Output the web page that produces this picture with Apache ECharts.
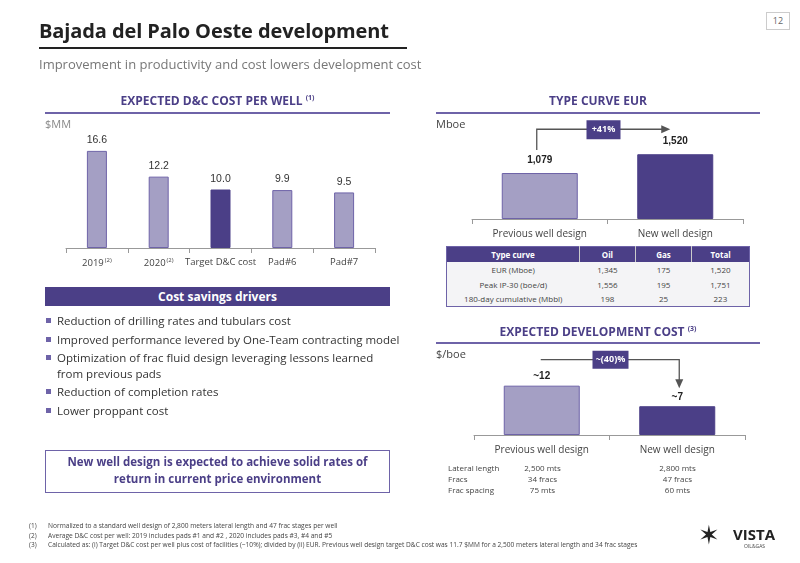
<!DOCTYPE html>
<html><head><meta charset="utf-8">
<script src="https://cdn.jsdelivr.net/npm/echarts@6/dist/echarts.min.js"></script>
<style>
body{margin:0;width:800px;height:563px;overflow:hidden;background:#fff;font-family:"Open Sans",sans-serif;}
#c{position:absolute;left:0;top:0;width:800px;height:563px;}
.t{position:absolute;white-space:nowrap;}
.h{position:absolute;color:#4B3F87;font-weight:bold;font-size:12px;text-align:center;}
.ln{position:absolute;height:2px;background:#6E63A8;}
sup{font-size:7px;}
table{border-collapse:collapse;font-size:8px;color:#444;}
</style></head><body>
<div id="c"></div>
<div id="ov"></div>
<script>
const dcCategories=['2019','2020','Target D&C cost','Pad#6','Pad#7'];
const dcSup=['(2)','(2)','','',''];
const dcValues=[16.6,12.2,10.0,9.9,9.5];
const eurCategories=['Previous well design','New well design'];
const eurValues=[1079,1520];
const eurLabels=['1,079','1,520'];
const devValues=[12,7];
const devLabels=['~12','~7'];
const tableHeader=['Type curve','Oil','Gas','Total'];
const tableRows=[['EUR (Mboe)','1,345','175','1,520'],['Peak IP-30 (boe/d)','1,556','195','1,751'],['180-day cumulative (Mbbl)','198','25','223']];
const specRows=[['Lateral length','2,500 mts','2,800 mts'],['Fracs','34 fracs','47 fracs'],['Frac spacing','75 mts','60 mts']];
const bullets=['Reduction of drilling rates and tubulars cost','Improved performance levered by One-Team contracting model','Optimization of frac fluid design leveraging lessons learned<br>from previous pads','Reduction of completion rates','Lower proppant cost'];
const footnotes=['Normalized to a standard well design of 2,800 meters lateral length and 47 frac stages per well','Average D&C cost per well: 2019 includes pads #1 and #2 , 2020 includes pads #3, #4 and #5','Calculated as: (i) Target D&C cost per well plus cost of facilities (~10%); divided by (ii) EUR. Previous well design target D&C cost was 11.7 $MM for a 2,500 meters lateral length and 34 frac stages'];

const LIGHT='#A49FC4',DARK='#4B3F87',BORDER='#6E63A8';
const ch=echarts.init(document.getElementById('c'));
const axisX=(gi,data,extra)=>Object.assign({type:'category',gridIndex:gi,data:data,axisLine:{lineStyle:{color:'#999'}},axisTick:{show:true,length:5,lineStyle:{color:'#999'}},axisLabel:{color:'#444',fontSize:10,margin:10,interval:0,fontFamily:'Open Sans'}},extra||{});
const axisY=(gi,max)=>({type:'value',gridIndex:gi,min:0,max:max,show:false,splitLine:{show:false}});
ch.setOption({
 animation:false,
 grid:[{left:66,width:309,top:131,height:117},{left:472,width:271,top:121,height:98},{left:474,width:271,top:361,height:74}],
 xAxis:[axisX(0,dcCategories,{axisLabel:{color:'#444',fontSize:9.5,margin:9,interval:0,fontFamily:'Open Sans',formatter:(v,i)=>dcSup[i]?v+'{s|'+dcSup[i]+'}':v,rich:{s:{fontSize:6,verticalAlign:'top',padding:[0,0,6,1]}}}}),axisX(1,eurCategories),axisX(2,eurCategories)],
 yAxis:[axisY(0,20),axisY(1,2300),axisY(2,18)],
 series:[
  {type:'bar',xAxisIndex:0,yAxisIndex:0,barWidth:20,data:dcValues.map((v,i)=>({value:v,itemStyle:{color:i===2?DARK:LIGHT,borderColor:i===2?DARK:BORDER,borderWidth:1}})),label:{show:true,position:'top',distance:5,color:'#333',fontSize:10.5,formatter:p=>p.value.toFixed(1)}},
  {type:'bar',xAxisIndex:1,yAxisIndex:1,barWidth:76,data:eurValues.map((v,i)=>({value:v,itemStyle:{color:i?DARK:LIGHT,borderColor:i?DARK:BORDER,borderWidth:1}})),label:{show:true,position:'top',distance:8,color:'#222',fontWeight:'bold',fontSize:10,formatter:p=>eurLabels[p.dataIndex]}},
  {type:'bar',xAxisIndex:2,yAxisIndex:2,barWidth:76,data:devValues.map((v,i)=>({value:v,itemStyle:{color:i?DARK:LIGHT,borderColor:i?DARK:BORDER,borderWidth:1}})),label:{show:true,position:'top',distance:4,color:'#222',fontWeight:'bold',fontSize:10,formatter:p=>devLabels[p.dataIndex]}}
 ]
});
const p=(gi,cat,val)=>ch.convertToPixel({xAxisIndex:gi,yAxisIndex:gi},[cat,val]);
const a0=p(1,eurCategories[0],eurValues[0]),a1=p(1,eurCategories[1],eurValues[1]);
const yTop=a1[1]-25, xs=a0[0]-3, xe=a1[0]-5;
const b0=p(2,eurCategories[0],devValues[0]),b1=p(2,eurCategories[1],devValues[1]);
const yT2=b0[1]-26;
const ar='#555';
ch.setOption({graphic:[
 {type:'polyline',shape:{points:[[xs,a0[1]-23],[xs,yTop],[xe-8,yTop]]},style:{stroke:ar,lineWidth:1.3,fill:null}},
 {type:'polygon',shape:{points:[[xe,yTop],[xe-9,yTop-4],[xe-9,yTop+4]]},style:{fill:ar}},
 {type:'rect',shape:{x:(xs+xe)/2-17,y:yTop-9,width:34,height:19},style:{fill:DARK}},
 {type:'text',x:(xs+xe)/2,y:yTop+0.5,style:{text:'+41%',fill:'#fff',font:'bold 9px "Open Sans"',align:'center',verticalAlign:'middle'}},
 {type:'polyline',shape:{points:[[b0[0]-1,yT2],[b1[0]+2,yT2],[b1[0]+2,b1[1]-26]]},style:{stroke:ar,lineWidth:1.3,fill:null}},
 {type:'polygon',shape:{points:[[b1[0]+2,b1[1]-18],[b1[0]-2,b1[1]-27],[b1[0]+6,b1[1]-27]]},style:{fill:ar}},
 {type:'rect',shape:{x:(b0[0]+b1[0])/2-17,y:yT2-9,width:36,height:18},style:{fill:DARK}},
 {type:'text',x:(b0[0]+b1[0])/2+1,y:yT2,style:{text:'~(40)%',fill:'#fff',font:'bold 9px "Open Sans"',align:'center',verticalAlign:'middle'}}
]});

let h='';
h+='<div class="t" style="left:39px;top:17px;font-size:20px;font-weight:bold;color:#222;letter-spacing:-0.1px">Bajada del Palo Oeste development</div>';
h+='<div class="ln" style="left:39px;top:47px;width:368px;height:2px;background:#222"></div>';
h+='<div class="t" style="left:766px;top:12px;width:22px;height:16px;background:#fff;border:1px solid #ccc;font-size:9px;color:#666;text-align:center;line-height:16px">12</div>';
h+='<div class="t" style="left:39px;top:55px;font-size:13px;color:#777;">Improvement in productivity and cost lowers development cost</div>';
h+='<div class="h" style="left:45px;width:345px;top:92px;">EXPECTED D&amp;C COST PER WELL <sup>(1)</sup></div><div class="ln" style="left:45px;top:112px;width:345px"></div>';
h+='<div class="h" style="left:436px;width:324px;top:92px;">TYPE CURVE EUR</div><div class="ln" style="left:436px;top:112px;width:324px"></div>';
h+='<div class="h" style="left:436px;width:324px;top:323px;">EXPECTED DEVELOPMENT COST <sup>(3)</sup></div><div class="ln" style="left:436px;top:342px;width:324px"></div>';
h+='<div class="t" style="left:45px;top:116px;font-size:11px;color:#888">$MM</div>';
h+='<div class="t" style="left:436px;top:116px;font-size:11px;color:#444">Mboe</div>';
h+='<div class="t" style="left:436px;top:346px;font-size:11px;color:#444">$/boe</div>';
h+='<div class="t" style="left:45px;top:287px;width:345px;height:19px;background:#4B3F87;color:#fff;font-weight:bold;font-size:12px;text-align:center;line-height:19px">Cost savings drivers</div>';
let y=313;
bullets.forEach(b=>{h+='<div class="t" style="left:45px;top:'+y+'px;font-size:11.5px;color:#333;line-height:16px"><span style="display:inline-block;width:5px;height:5px;background:#6E63A8;margin:0 6px 2px 1px;vertical-align:middle"></span>'+b.replace('<br>','<br><span style="padding-left:12px"></span>')+'</div>';y+=b.includes('<br>')?34:18.5;});
h+='<div class="t" style="left:45px;top:450px;width:343px;height:39px;border:1px solid #6E63A8;color:#4B3F87;font-weight:bold;font-size:11.5px;text-align:center;line-height:17px;padding-top:2px">New well design is expected to achieve solid rates of<br>return in current price environment</div>';
let tb='<table style="position:absolute;left:446px;top:246px;width:304px;border:1px solid #6E63A8;background:#F4F4F6">';
tb+='<tr style="background:#4B3F87;color:#fff;font-weight:bold;height:15px">'+tableHeader.map((c,i)=>'<td style="text-align:center;width:'+[136,55,56,57][i]+'px;'+(i?'border-left:1px solid #ccc':'')+'">'+c+'</td>').join('')+'</tr>';
tableRows.forEach(r=>{tb+='<tr style="height:15px">'+r.map(c=>'<td style="text-align:center">'+c+'</td>').join('')+'</tr>';});
tb+='</table>';h+=tb;
specRows.forEach((r,i)=>{const ty=462+i*11;
 h+='<div class="t" style="left:448px;top:'+ty+'px;font-size:8px;color:#444">'+r[0]+'</div>';
 h+='<div class="t" style="left:510px;width:65px;text-align:center;top:'+ty+'px;font-size:8px;color:#444">'+r[1]+'</div>';
 h+='<div class="t" style="left:645px;width:65px;text-align:center;top:'+ty+'px;font-size:8px;color:#444">'+r[2]+'</div>';});
footnotes.forEach((f,i)=>{const ty=521+i*9.5;
 h+='<div class="t" style="left:29px;top:'+ty+'px;font-size:6.5px;color:#444">('+(i+1)+')</div><div class="t" style="left:48px;top:'+ty+'px;font-size:6.6px;color:#444">'+f+'</div>';});
h+='<div class="t" style="left:698px;top:524px;font-size:26px;color:#222;line-height:20px">✶</div>';
h+='<div class="t" style="left:733px;top:526px;font-size:15px;font-weight:bold;color:#222;line-height:16px">VISTA</div>';
h+='<div class="t" style="left:744px;top:543px;font-size:5px;color:#444">OIL&amp;GAS</div>';
document.getElementById('ov').innerHTML=h;
</script></body></html>
